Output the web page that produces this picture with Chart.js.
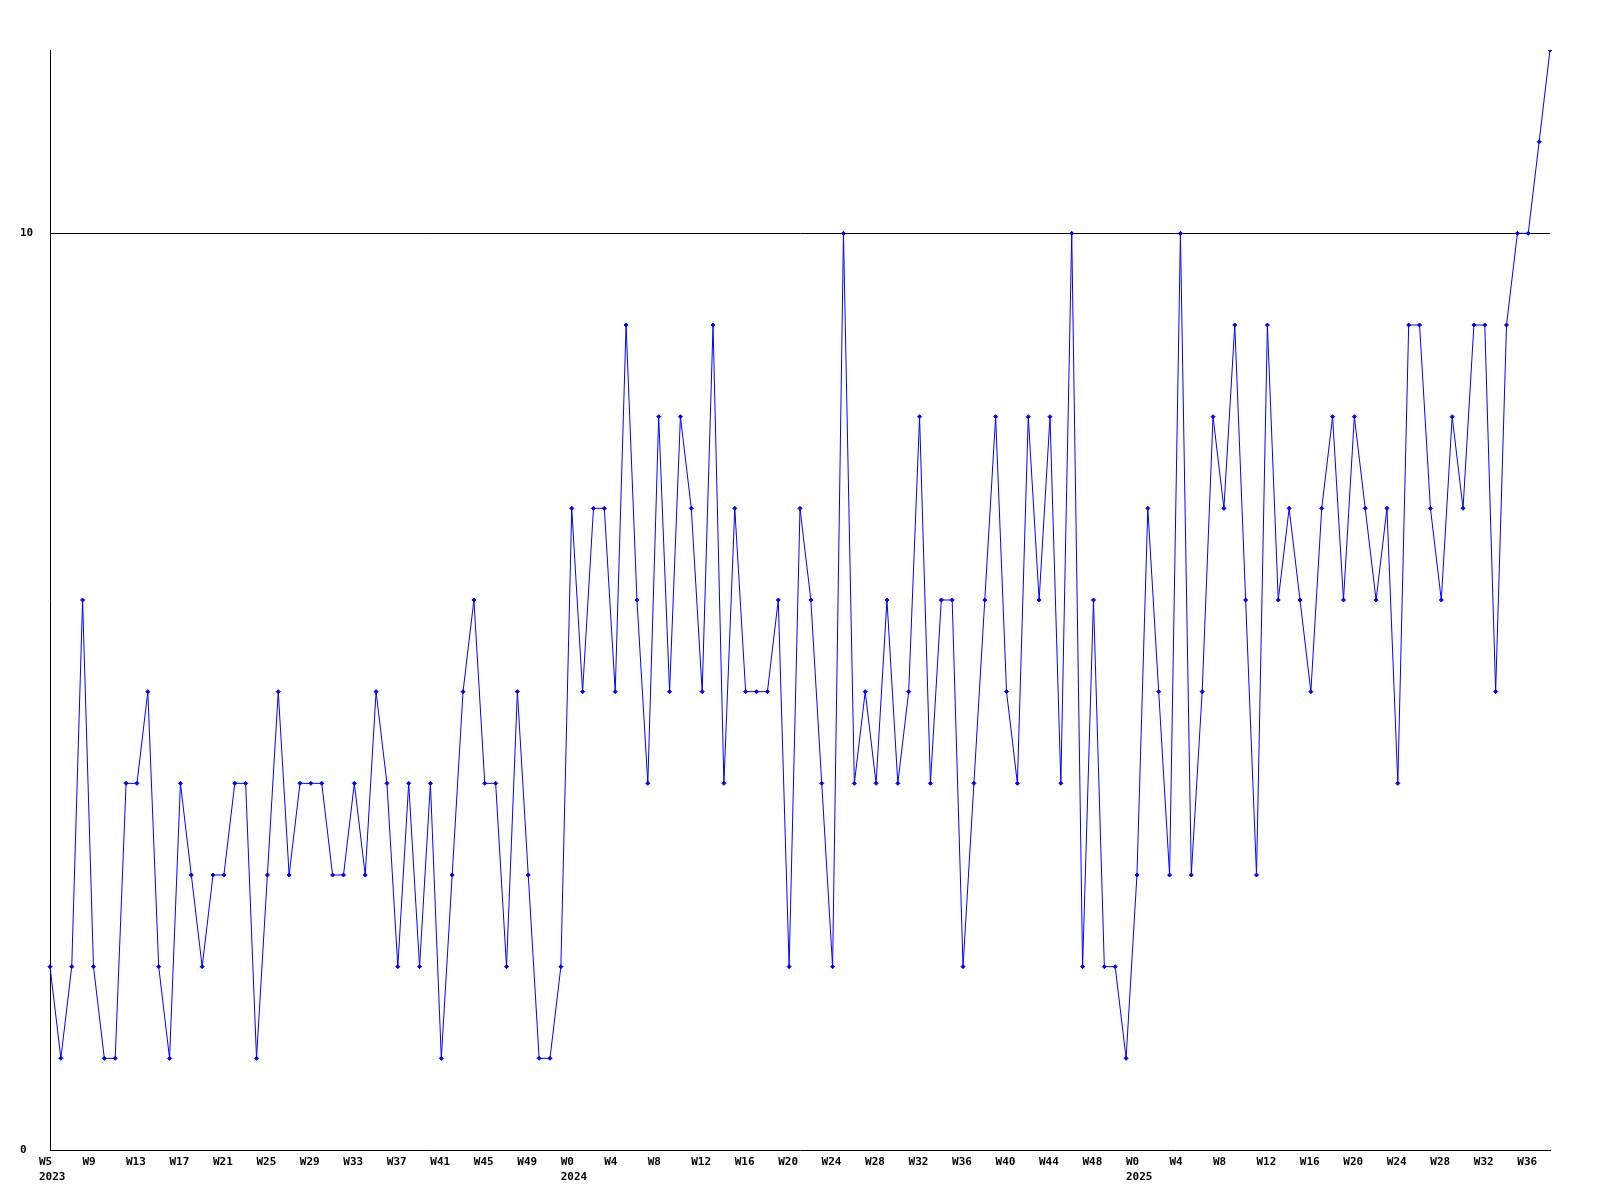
<!DOCTYPE html>
<html>
<head>
<meta charset="utf-8">
<script src="https://cdn.jsdelivr.net/npm/chart.js@4/dist/chart.umd.min.js"></script>
<style>
    body { margin: 0; background: #fff; }
    #wrap { width: 1600px; height: 1200px; position: relative; }
</style>
</head>
<body>
<div id="wrap"><canvas id="myChart"></canvas></div>
<script>
// weekly values, one array per year
const years = [2023, 2024, 2025];
const firstWeek = [5, 0, 0];
const values2023 = [2, 1, 2, 6, 2, 1, 1, 4, 4, 5, 2, 1, 4, 3, 2, 3, 3, 4, 4, 1,
    3, 5, 3, 4, 4, 4, 3, 3, 4, 3, 5, 4, 2, 4, 2, 4, 1, 3, 5, 6,
    4, 4, 2, 5, 3, 1, 1, 2];
const values2024 = [7, 5, 7, 7, 5, 9, 6, 4, 8, 5, 8, 7, 5, 9, 4, 7, 5, 5, 5, 6,
    2, 7, 6, 4, 2, 10, 4, 5, 4, 6, 4, 5, 8, 4, 6, 6, 2, 4, 6, 8,
    5, 4, 8, 6, 8, 4, 10, 2, 6, 2, 2, 1];
const values2025 = [3, 7, 5, 3, 10, 3, 5, 8, 7, 9, 6, 3, 9, 6, 7, 6, 5, 7,
    8, 6, 8, 7, 6, 7, 4, 9, 9, 7, 6, 8, 7, 9, 9, 5, 9, 10, 10, 11, 12];
const yTicks = [0, 10];

const yearValues = [values2023, values2024, values2025];

// categories: one label per week, year added under the first week of each year
const labels = [];
const values = [];
yearValues.forEach((vals, y) => {
    vals.forEach((v, i) => {
        const w = 'W' + (firstWeek[y] + i);
        labels.push(i === 0 ? [w, String(years[y])] : w);
        values.push(v);
    });
});

const axisFont = { family: 'DejaVu Sans Mono', size: 11, weight: 'bold', lineHeight: '15px' };

const ctx = document.getElementById('myChart').getContext('2d');
const chart = new Chart(ctx, {
    type: 'line',
    data: {
        labels: labels,
        datasets: [{
            data: values,
            borderColor: '#0000ff',
            backgroundColor: '#0000ff',
            borderWidth: 1,
            pointStyle: 'rectRot',
            pointRadius: 2,
            pointBorderWidth: 1,
            pointBackgroundColor: '#0000ff',
            pointBorderColor: '#0000ff',
            tension: 0,
            fill: false
        }]
    },
    options: {
        responsive: true,
        maintainAspectRatio: false,
        animation: false,
        layout: { padding: { left: 20, right: 50, top: 50, bottom: 0 } },
        plugins: {
            legend: { display: false },
            tooltip: { enabled: false }
        },
        scales: {
            x: {
                type: 'category',
                offset: false,
                afterFit: (scale) => { scale.height = 50; },
                grid: { display: false, drawTicks: false },
                border: { display: true, color: '#000', width: 1 },
                ticks: {
                    autoSkip: false,
                    maxRotation: 0,
                    minRotation: 0,
                    align: 'start',
                    labelOffset: -11,
                    padding: 5,
                    color: '#000',
                    font: axisFont,
                    callback: function (value, index) {
                        return index % 4 === 0 ? labels[index] : null;
                    }
                }
            },
            y: {
                min: 0,
                max: 12,
                afterFit: (scale) => { scale.width = 30; },
                afterBuildTicks: (scale) => {
                    scale.ticks = yTicks.map(v => ({ value: v }));
                },
                grid: {
                    drawTicks: false,
                    color: (c) => (c.tick && c.tick.value === 10 ? '#000' : 'rgba(0,0,0,0)'),
                    lineWidth: 1
                },
                border: { display: true, color: '#000', width: 1 },
                ticks: {
                    crossAlign: 'far',
                    padding: 0,
                    color: '#000',
                    font: axisFont
                }
            }
        }
    }
});
</script>
</body>
</html>
